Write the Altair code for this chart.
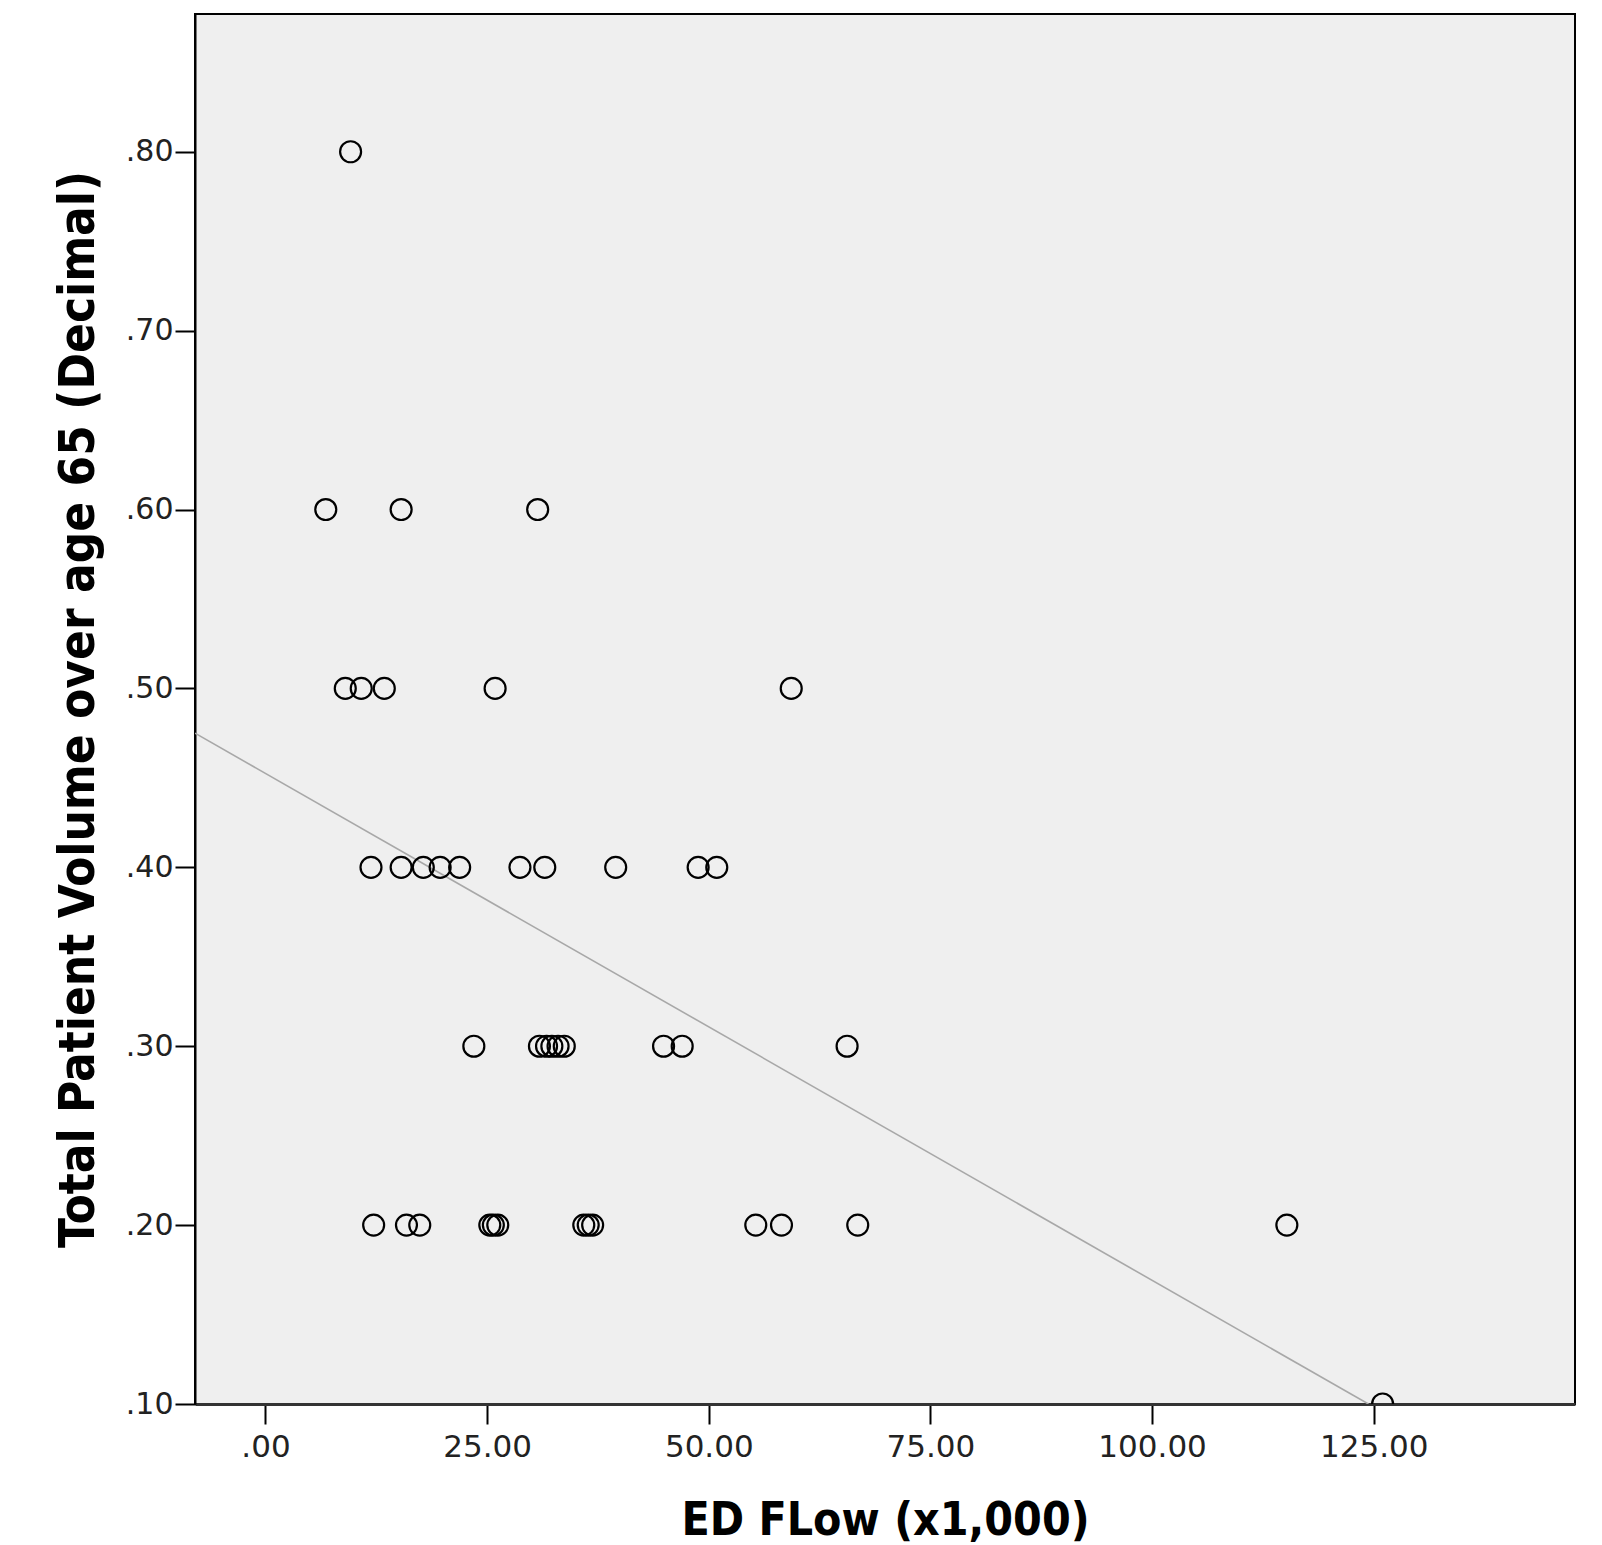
import altair as alt
import pandas as pd

# ED flow (x1,000) and share of patient volume over 65
x_flow = [9.6,
          6.8, 15.3, 30.7,
          9.0, 10.8, 13.4, 25.9, 59.3,
          11.9, 15.3, 17.8, 19.7, 21.9, 28.7, 31.5, 39.5, 48.8, 50.9,
          23.5, 30.9, 31.7, 32.3, 33.0, 33.7, 44.9, 47.0, 65.6,
          12.2, 15.9, 17.4, 25.3, 25.7, 26.2, 35.9, 36.4, 36.9, 55.3, 58.2, 66.8, 115.2,
          126.0]
y_share = [0.80,
           0.60, 0.60, 0.60,
           0.50, 0.50, 0.50, 0.50, 0.50,
           0.40, 0.40, 0.40, 0.40, 0.40, 0.40, 0.40, 0.40, 0.40, 0.40,
           0.30, 0.30, 0.30, 0.30, 0.30, 0.30, 0.30, 0.30, 0.30,
           0.20, 0.20, 0.20, 0.20, 0.20, 0.20, 0.20, 0.20, 0.20, 0.20, 0.20, 0.20, 0.20,
           0.10]

# fitted line end points
fit_x = [-7.95, 124.4]
fit_y = [0.475, 0.10]

x_ticks = [0, 25, 50, 75, 100, 125]
y_ticks = [0.1, 0.2, 0.3, 0.4, 0.5, 0.6, 0.7, 0.8]
x_domain = [-7.95, 147.7]
y_domain = [0.10, 0.877]

x_title = "ED FLow (x1,000)"
y_title = "Total Patient Volume over age 65 (Decimal)"

pts = pd.DataFrame({"x": x_flow, "y": y_share})
fit = pd.DataFrame({"x": fit_x, "y": fit_y})

xs = alt.Scale(domain=x_domain, nice=False, zero=False)
ys = alt.Scale(domain=y_domain, nice=False, zero=False)

title_font = "DejaVu Sans Condensed"
label_font = "DejaVu Sans"

ax_x = alt.Axis(values=x_ticks,
                labelExpr="datum.value == 0 ? '.00' : format(datum.value, '.2f')",
                title=x_title, grid=False,
                domainColor="#333333", domainWidth=3,
                tickColor="black", tickWidth=2, tickSize=20,
                labelFont=label_font, labelFontSize=31, labelColor="#222222",
                labelPadding=8, labelFlush=False, labelOverlap=False,
                titleFont=title_font, titleFontSize=46, titleFontWeight="bold",
                titleColor="black", titlePadding=36)
ax_y = alt.Axis(values=y_ticks,
                labelExpr="replace(format(datum.value, '.2f'), '0.', '.')",
                title=y_title, grid=False,
                domainColor="black", domainWidth=2,
                tickColor="black", tickWidth=2, tickSize=20,
                labelFont=label_font, labelFontSize=30, labelColor="#222222",
                labelPadding=2, labelFlush=False, labelOverlap=False,
                titleFont=title_font, titleFontSize=49, titleFontWeight="bold",
                titleColor="black", titlePadding=22)

line = alt.Chart(fit).mark_line(color="#a8a8a8", strokeWidth=1.6, clip=True).encode(
    x=alt.X("x:Q", scale=xs, axis=ax_x),
    y=alt.Y("y:Q", scale=ys, axis=ax_y),
)

points = alt.Chart(pts).mark_point(shape="circle", filled=False, color="black",
                                   size=440, strokeWidth=2.2, opacity=1, clip=True).encode(
    x=alt.X("x:Q", scale=xs, axis=ax_x),
    y=alt.Y("y:Q", scale=ys, axis=ax_y),
)

chart = alt.layer(line, points).properties(
    width=1380, height=1390,
    padding={"left": 46, "top": 6, "right": 10, "bottom": 4},
    background="white",
).configure_view(fill="#efefef", stroke="black", strokeWidth=2)

chart.save("out.html", embed_options={"renderer": "svg", "actions": False})
